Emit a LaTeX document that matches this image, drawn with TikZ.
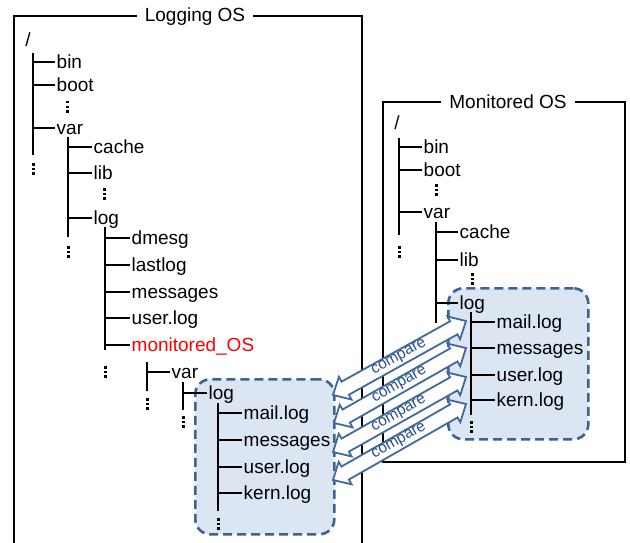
\documentclass[tikz,border=0pt]{standalone}
\usepackage{fontspec}
\setmainfont{Liberation Sans}
\usetikzlibrary{calc}
\definecolor{boxfill}{RGB}{220,230,242}
\definecolor{boxline}{RGB}{59,100,148}
\definecolor{arrline}{RGB}{65,105,155}
\definecolor{arrtext}{RGB}{40,80,140}
\tikzset{
  frame/.style={line width=2.6pt, line join=miter},
  ttl/.style={fill=white, inner xsep=8pt, inner ysep=2pt, font=\fontsize{19}{22}\selectfont},
  lbl/.style={anchor=west, inner xsep=1.5pt, inner ysep=0pt, text height=13pt, text depth=0pt, font=\fontsize{19}{22}\selectfont},
  tree/.style={line width=2.8pt},
  vdots/.style={line width=3pt, dash pattern=on 2.5pt off 2.2pt},
  logbox/.style={draw=boxline, fill=boxfill, line width=2.6pt, dash pattern=on 9pt off 5pt, rounded corners=15pt},
  cmparrow/.style={draw=arrline, fill=white, line width=1.8pt, line join=miter},
  cmptext/.style={text=arrtext, inner sep=0pt, text height=8pt, text depth=3pt, font=\fontsize{15.5}{17}\selectfont}
}
\begin{document}
\begin{tikzpicture}[x=1pt,y=-1pt]
\useasboundingbox (0,0) rectangle (630,543);
% ---------- frames ----------
\draw[frame] (14,543) -- (14,16) -- (362,16) -- (362,543);
\node[ttl] (tlog) at (195,17) {Logging OS};
\draw[frame] (383,102) rectangle (625,462);
\node[ttl] (tmon) at (508,102) {Monitored OS};
% ---------- blue boxes ----------
\node[logbox, minimum width=139pt, minimum height=155pt, anchor=north west] (boxL) at (194,378) {};
\node[logbox, minimum width=140pt, minimum height=151pt, anchor=north west] (boxR) at (447,287) {};
% ---------- left tree ----------
\node[lbl, anchor=center] (rootL) at (28,40) {/};
\coordinate (a0t) at (33,53); \coordinate (a0b) at (33,155);
\draw[tree] (a0t) -- (a0b);
\node[lbl] (binL) at (55,62) {bin};
\node[lbl] (bootL) at (55,85) {boot};
\node[lbl] (varL) at (55,128) {var};
\foreach \n in {binL,bootL,varL} \draw[tree] (\n.west) -- (\n.west -| a0t);
\coordinate (d1) at (67,101); \draw[vdots] (d1) -- ++(0,13);
\coordinate (d2) at (33,163); \draw[vdots] (d2) -- ++(0,13);

\coordinate (a1t) at (68,137); \coordinate (a1b) at (68,237);
\draw[tree] (a1t) -- (a1b);
\node[lbl] (cacheL) at (92,147) {cache};
\node[lbl] (libL) at (92,173) {lib};
\node[lbl] (logL) at (92,218) {log};
\foreach \n in {cacheL,libL,logL} \draw[tree] (\n.west) -- (\n.west -| a1t);
\coordinate (d3) at (104,188); \draw[vdots] (d3) -- ++(0,13);
\coordinate (d4) at (68,246); \draw[vdots] (d4) -- ++(0,13);

\coordinate (a2t) at (105,227); \coordinate (a2b) at (105,350);
\draw[tree] (a2t) -- (a2b);
\node[lbl] (dmesgL) at (130,238) {dmesg};
\node[lbl] (lastlogL) at (130,265) {lastlog};
\node[lbl] (messagesL) at (130,292) {messages};
\node[lbl] (userL) at (130,318) {user.log};
\node[lbl, text=red] (monL) at (130,345) {monitored\_OS};
\foreach \n in {dmesgL,lastlogL,messagesL,userL,monL} \draw[tree] (\n.west) -- (\n.west -| a2t);
\coordinate (d5) at (105,366); \draw[vdots] (d5) -- ++(0,13);

\coordinate (a3t) at (147,362); \coordinate (a3b) at (147,391);
\draw[tree] (a3t) -- (a3b);
\node[lbl] (var2L) at (170,372) {var};
\draw[tree] (var2L.west) -- (var2L.west -| a3t);
\coordinate (d6) at (147,398); \draw[vdots] (d6) -- ++(0,13);

\coordinate (a4t) at (183,382); \coordinate (a4b) at (183,410);
\draw[tree] (a4t) -- (a4b);
\node[lbl] (log2L) at (207,393) {log};
\draw[tree] (log2L.west) -- (log2L.west -| a4t);
\coordinate (d7) at (183,416); \draw[vdots] (d7) -- ++(0,13);

\coordinate (a5t) at (218,403); \coordinate (a5b) at (218,511);
\draw[tree] (a5t) -- (a5b);
\node[lbl] (mailLL) at (242,413) {mail.log};
\node[lbl] (msgLL) at (242,440) {messages};
\node[lbl] (userLL) at (242,467) {user.log};
\node[lbl] (kernLL) at (242,493) {kern.log};
\foreach \n in {mailLL,msgLL,userLL,kernLL} \draw[tree] (\n.west) -- (\n.west -| a5t);
\coordinate (d8) at (218,518); \draw[vdots] (d8) -- ++(0,13);

% ---------- right tree ----------
\node[lbl, anchor=center] (rootR) at (397,123) {/};
\coordinate (b0t) at (399,138); \coordinate (b0b) at (399,235);
\draw[tree] (b0t) -- (b0b);
\node[lbl] (binR) at (422,147) {bin};
\node[lbl] (bootR) at (422,170) {boot};
\node[lbl] (varR) at (422,212) {var};
\foreach \n in {binR,bootR,varR} \draw[tree] (\n.west) -- (\n.west -| b0t);
\coordinate (e1) at (436,184); \draw[vdots] (e1) -- ++(0,13);
\coordinate (e2) at (399,246); \draw[vdots] (e2) -- ++(0,13);

\coordinate (b1t) at (436,222); \coordinate (b1b) at (436,323);
\draw[tree] (b1t) -- (b1b);
\node[lbl] (cacheR) at (458,232) {cache};
\node[lbl] (libR) at (458,260) {lib};
\node[lbl] (logR) at (458,303) {log};
\foreach \n in {cacheR,libR,logR} \draw[tree] (\n.west) -- (\n.west -| b1t);
\coordinate (e3) at (472,273); \draw[vdots] (e3) -- ++(0,13);

\coordinate (b2t) at (471,312); \coordinate (b2b) at (471,415);
\draw[tree] (b2t) -- (b2b);
\node[lbl] (mailR) at (495,322) {mail.log};
\node[lbl] (msgR) at (495,348) {messages};
\node[lbl] (userR) at (495,375) {user.log};
\node[lbl] (kernR) at (495,400) {kern.log};
\foreach \n in {mailR,msgR,userR,kernR} \draw[tree] (\n.west) -- (\n.west -| b2t);
\coordinate (e4) at (471,421); \draw[vdots] (e4) -- ++(0,13);

% ---------- compare arrows (block double arrows) ----------
\coordinate (L1) at (333,395);
\coordinate (L2) at (334,423);
\coordinate (L3) at (333,452);
\coordinate (L4) at (333,480);
\foreach \i/\ang/\len in {1/29.09/152.2, 2/29.6/151.8, 3/29.42/152.7, 4/29.74/153.2}{
  \begin{scope}[shift={(L\i)}, rotate=\ang]
    \pgfmathsetmacro{\hl}{14}
    \pgfmathsetmacro{\ha}{\len-14}
    \draw[cmparrow] (0pt,0pt) -- (\hl pt,13pt) -- (\hl pt,7.5pt) -- (\ha pt,7.5pt) -- (\ha pt,13pt)
      -- (\len pt,0pt) -- (\ha pt,-13pt) -- (\ha pt,-7.5pt) -- (\hl pt,-7.5pt) -- (\hl pt,-13pt) -- cycle;
    \node[cmptext, rotate=\ang] (cmp\i) at (\len/2 pt, 0.5pt) {compare};
  \end{scope}
}
\end{tikzpicture}
\end{document}
